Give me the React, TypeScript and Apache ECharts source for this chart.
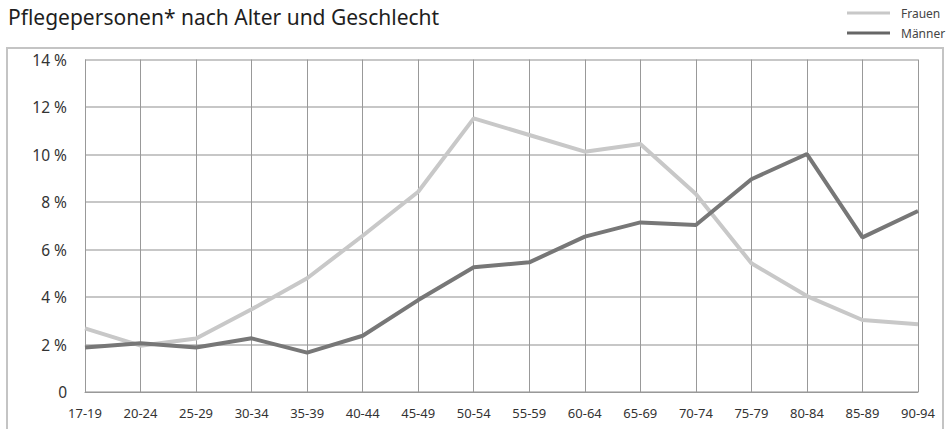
import React, { useEffect, useRef } from "react";
import * as echarts from "echarts";

const categories = ["17-19", "20-24", "25-29", "30-34", "35-39", "40-44", "45-49", "50-54", "55-59", "60-64", "65-69", "70-74", "75-79", "80-84", "85-89", "90-94"];
const frauen = [2.68, 1.95, 2.25, 3.48, 4.79, 6.58, 8.43, 11.52, 10.82, 10.12, 10.44, 8.34, 5.42, 4.04, 3.03, 2.85];
const maenner = [1.87, 2.05, 1.87, 2.26, 1.66, 2.37, 3.87, 5.25, 5.46, 6.54, 7.14, 7.03, 8.96, 10.02, 6.51, 7.62];
const yTicks = [0, 2, 4, 6, 8, 10, 12, 14];

const FONT = "'Noto Sans', sans-serif";

export default function App() {
  const ref = useRef<HTMLDivElement>(null);
  useEffect(() => {
    if (!ref.current) return;
    const chart = echarts.init(ref.current, null, { renderer: "svg" });
    chart.setOption({
      animation: false,
      backgroundColor: "#ffffff",
      title: {
        text: "Pflegepersonen* nach Alter und Geschlecht",
        left: 3,
        top: 1,
        textStyle: { fontFamily: FONT, fontSize: 21, fontWeight: "normal", color: "#1e1e1e" },
      },
      legend: {
        orient: "vertical",
        left: 842,
        top: 1,
        itemWidth: 43,
        itemHeight: 3,
        itemGap: 6,
        icon: "rect",
        textStyle: { fontFamily: FONT, fontSize: 12, color: "#444444", lineHeight: 14, padding: [0, 0, 0, 6] },
        data: ["Frauen", "Männer"],
      },
      graphic: [
        {
          type: "polyline",
          shape: { points: [[7, 429], [7, 48], [943, 48], [943, 429]] },
          style: { stroke: "#c4c4c4", lineWidth: 2, fill: "none" },
          silent: true,
        },
      ],
      grid: { left: 85, right: 29, top: 59.5, bottom: 37, containLabel: false },
      xAxis: {
        type: "category",
        data: categories,
        boundaryGap: false,
        axisLine: { show: true, lineStyle: { color: "#999999", width: 1 } },
        axisTick: { show: false },
        axisLabel: { fontFamily: FONT, fontSize: 13, color: "#333333", margin: 14, interval: 0 },
        splitLine: { show: true, lineStyle: { color: "#999999", width: 1 } },
      },
      yAxis: {
        type: "value",
        min: 0,
        max: 14,
        interval: 2,
        axisLine: { show: false },
        axisTick: { show: false },
        axisLabel: {
          fontFamily: FONT,
          fontSize: 15.5,
          color: "#333333",
          margin: 18,
          formatter: (v: number) => (yTicks.includes(v) ? (v === 0 ? "0" : v + " %") : ""),
        },
        splitLine: { show: true, lineStyle: { color: "#b4b4b4", width: 1.5 } },
      },
      series: [
        {
          name: "Frauen",
          type: "line",
          data: frauen,
          symbol: "none",
          lineStyle: { color: "#c8c8c8", width: 4 },
          itemStyle: { color: "#c8c8c8" },
          z: 2,
        },
        {
          name: "Männer",
          type: "line",
          data: maenner,
          symbol: "none",
          lineStyle: { color: "#777777", width: 4 },
          itemStyle: { color: "#666666" },
          z: 3,
        },
      ],
    });
    return () => chart.dispose();
  }, []);
  return (
    <div
      ref={ref}
      style={{ position: "fixed", left: 0, top: 0, width: 947, height: 429 }}
    />
  );
}
